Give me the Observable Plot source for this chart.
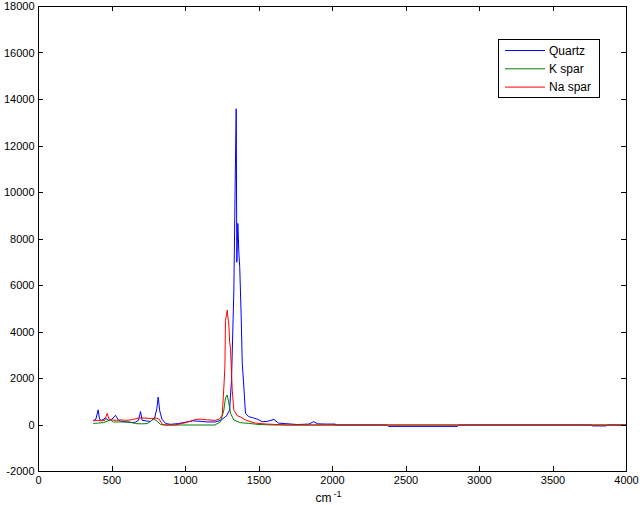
<!DOCTYPE html>
<html><head><meta charset="utf-8">
<script src="https://cdn.jsdelivr.net/npm/d3@7"></script>
<script src="https://cdn.jsdelivr.net/npm/@observablehq/plot@0.6"></script>
<style>body{margin:0;background:#fff} svg{display:block}</style>
</head><body><div id="chart"></div>
<script>
const seriesNames = ["Quartz", "K spar", "Na spar"];
const seriesColors = ["#0000ff", "#008000", "#ff0000"];

const quartzX = [375, 390, 406, 415, 430, 456, 475, 500, 524, 545, 570, 600, 630, 660, 680, 694, 705, 730, 760, 790, 805, 814, 825, 840, 865, 900, 950, 1000, 1050, 1100, 1150, 1200, 1240, 1280, 1300, 1313, 1329, 1338, 1345, 1349, 1356, 1363, 1369, 1379, 1386, 1397, 1408, 1431, 1463, 1490, 1522, 1560, 1601, 1633, 1680, 1720, 1760, 1800, 1840, 1871, 1900, 1950, 2020, 2021, 2370, 2380, 2850, 2860, 3760, 3770, 3860, 3870, 4000];
const quartzY = [200, 250, 650, 250, 200, 300, 200, 250, 420, 200, 150, 130, 100, 120, 200, 580, 200, 180, 150, 300, 700, 1200, 600, 250, 60, 30, 60, 120, 180, 160, 130, 130, 200, 400, 650, 1930, 5800, 10400, 13600, 7000, 8670, 7400, 6780, 4640, 2660, 1630, 500, 360, 300, 250, 140, 160, 240, 80, 60, 40, 20, 30, 40, 140, 50, 40, 40, 0, 0, -60, -60, 0, 0, -40, -40, 0, 0];

const kX = [375, 400, 440, 475, 490, 510, 560, 620, 660, 700, 740, 760, 780, 800, 830, 860, 1200, 1238, 1261, 1272, 1284, 1295, 1306, 1329, 1374, 1431, 1500, 1600, 4000];
const kY = [70, 80, 100, 180, 210, 130, 130, 130, 60, 50, 60, 150, 250, 200, 20, 0, 0, 140, 640, 1160, 1290, 940, 510, 210, 100, 70, 20, 0, 0];

const naX = [375, 400, 430, 450, 467, 480, 500, 530, 560, 600, 640, 680, 720, 760, 800, 820, 844, 870, 930, 970, 1000, 1050, 1080, 1110, 1150, 1200, 1230, 1250, 1261, 1268, 1272, 1278, 1284, 1289, 1295, 1300, 1306, 1313, 1318, 1329, 1352, 1374, 1408, 1476, 1550, 1700, 4000];
const naY = [180, 200, 180, 200, 500, 250, 220, 200, 220, 200, 230, 300, 300, 280, 300, 250, 20, 0, 0, 60, 100, 200, 250, 250, 220, 200, 250, 430, 1640, 2500, 4500, 4700, 4940, 4600, 4300, 3600, 3300, 2230, 1500, 640, 400, 350, 210, 80, 40, 0, 0];

const xTicks = [0, 500, 1000, 1500, 2000, 2500, 3000, 3500, 4000];
const yTicks = [-2000, 0, 2000, 4000, 6000, 8000, 10000, 12000, 14000, 16000, 18000];

const rows = [];
[[quartzX, quartzY], [kX, kY], [naX, naY]].forEach(([xs, ys], i) =>
  xs.forEach((x, j) => rows.push({series: seriesNames[i], x, y: ys[j]})));

// inward MATLAB-style ticks on all four sides, placed with the plot's own scales
function inwardTicks(index, scales, values, dims) {
  const g = d3.create("svg:g").attr("stroke", "black").attr("stroke-width", 1);
  const top = dims.marginTop, bottom = dims.height - dims.marginBottom;
  const left = dims.marginLeft, right = dims.width - dims.marginRight;
  const L = 5;
  xTicks.forEach(t => {
    const x = Math.round(scales.x(t)) + 0.5;
    g.append("line").attr("x1", x).attr("x2", x).attr("y1", bottom).attr("y2", bottom - L);
    g.append("line").attr("x1", x).attr("x2", x).attr("y1", top).attr("y2", top + L);
  });
  yTicks.forEach(t => {
    const y = Math.round(scales.y(t)) + 0.5;
    g.append("line").attr("y1", y).attr("y2", y).attr("x1", left).attr("x2", left + L);
    g.append("line").attr("y1", y).attr("y2", y).attr("x1", right).attr("x2", right - L);
  });
  return g.node();
}

function legend() {
  const g = d3.create("svg:g").attr("text-anchor", "start");
  g.append("rect").attr("x", 498.5).attr("y", 39.5).attr("width", 101).attr("height", 58)
    .attr("fill", "white").attr("stroke", "black");
  seriesNames.forEach((n, i) => {
    const y = 50.5 + i * 18.3;
    g.append("line").attr("x1", 505).attr("x2", 545).attr("y1", y).attr("y2", y)
      .attr("stroke", seriesColors[i]).attr("stroke-width", 1);
    g.append("text").attr("x", 549).attr("y", y).attr("dy", "0.35em")
      .attr("font-size", 12).attr("fill", "black").attr("text-anchor", "start").text(n);
  });
  return g.node();
}

const chart = Plot.plot({
  width: 640,
  height: 507,
  marginLeft: 38,
  marginRight: 14,
  marginTop: 6,
  marginBottom: 36,
  style: {fontFamily: "'Liberation Sans', Arial, sans-serif", fontSize: "11px", background: "white", color: "black"},
  x: {domain: [0, 4000]},
  y: {domain: [-2000, 18000]},
  color: {domain: seriesNames, range: seriesColors},
  marks: [
    Plot.line(rows, {x: "x", y: "y", z: "series", stroke: "series", strokeWidth: 1}),
    Plot.frame({stroke: "black", strokeWidth: 1}),
    Plot.axisX({ticks: xTicks, tickSize: 0, tickPadding: 5, label: null, anchor: "bottom", tickFormat: d => String(d)}),
    Plot.axisY({ticks: yTicks, tickSize: 0, tickPadding: 4, label: null, anchor: "left", tickFormat: d => String(d)}),
    inwardTicks,
    Plot.text(["cm"], {frameAnchor: "bottom", text: d => d, textAnchor: "end", dx: -1, dy: 30, fontSize: 12}),
    Plot.text(["-1"], {frameAnchor: "bottom", text: d => d, textAnchor: "start", dx: 1, dy: 25, fontSize: 9}),
    legend
  ]
});
document.getElementById("chart").appendChild(chart);
</script>
</body></html>
